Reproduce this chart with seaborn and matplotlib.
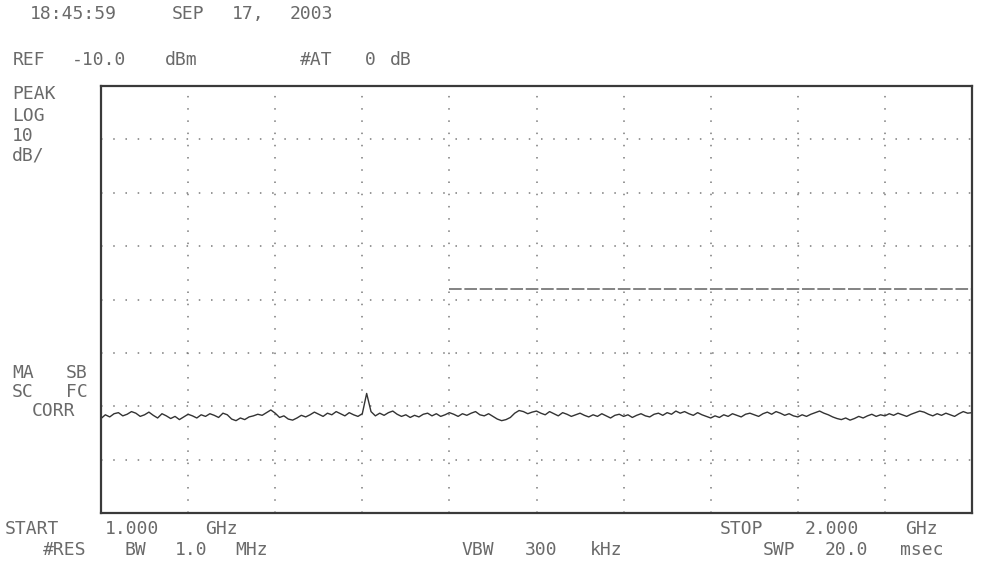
import numpy as np
import pandas as pd
import seaborn as sns
import matplotlib.pyplot as plt

# sweep settings (1.000 - 2.000 GHz, 5 MHz per trace point)
start_ghz = 1.0
stop_ghz = 2.0
ref_dbm = -10.0
db_per_div = 10

# trace, dBm
trace_dbm = [
    -72.3, -71.6, -72.0, -71.4, -71.2, -71.8, -71.5, -71.0, -71.3, -71.9,
    -71.6, -71.1, -71.7, -72.2, -71.4, -71.8, -72.3, -71.9, -72.5, -72.0,
    -71.5, -71.8, -72.2, -71.6, -71.9, -71.4, -71.7, -72.1, -71.3, -71.6,
    -72.4, -72.7, -72.2, -72.5, -72.0, -71.8, -71.5, -71.7, -71.2, -70.7,
    -71.3, -72.1, -71.8, -72.4, -72.6, -72.2, -71.7, -72.0, -71.6, -71.1,
    -71.5, -71.9, -71.3, -71.6, -71.0, -71.4, -71.8, -71.2, -71.6, -71.9,
    -71.4, -67.6, -71.0, -71.8, -71.3, -71.7, -71.2, -70.9, -71.5, -71.9,
    -71.6, -72.1, -71.7, -72.0, -71.5, -71.3, -71.8, -71.4, -71.9, -71.6,
    -71.2, -71.5, -71.9, -71.4, -71.7, -71.3, -71.0, -71.6, -71.8, -71.4,
    -71.9, -72.4, -72.7, -72.5, -72.1, -71.3, -70.8, -71.0, -71.4, -71.1,
    -70.9, -71.3, -71.6, -71.0, -71.4, -71.8, -71.2, -71.5, -71.9, -71.6,
    -71.3, -71.7, -72.0, -71.6, -71.9, -71.4, -71.8, -72.2, -71.7, -71.5,
    -71.9, -71.6, -72.1, -71.7, -71.4, -71.8, -72.0, -71.5, -71.3, -71.7,
    -71.2, -71.5, -70.9, -71.3, -71.0, -71.4, -71.7, -71.2, -71.6, -71.9,
    -72.2, -71.8, -72.1, -71.6, -71.9, -71.4, -71.7, -72.0, -71.5, -71.3,
    -71.6, -71.9, -71.4, -71.1, -71.5, -71.0, -71.3, -71.7, -71.4, -71.8,
    -72.0, -71.6, -71.9, -71.5, -71.2, -70.9, -71.3, -71.6, -72.0, -72.3,
    -72.5, -72.2, -72.6, -72.3, -71.9, -72.2, -71.8, -71.5, -71.9, -71.6,
    -71.8, -71.4, -71.7, -71.3, -71.6, -71.9, -71.5, -71.2, -70.9, -71.1,
    -71.5, -71.8, -71.4, -71.7, -71.3, -71.6, -71.9, -71.4, -71.0, -71.3,
    -71.2,
]
freq_ghz = np.linspace(start_ghz, stop_ghz, len(trace_dbm))

# display line drawn across the right part of the screen
display_line_dbm = -48.0
display_line_from = 1.40

df = pd.DataFrame({'freq': freq_ghz, 'level': trace_dbm})

W, H = 989, 571
sns.set_style('white')
plt.rcParams['font.family'] = ['DejaVu Sans Mono']

fig = plt.figure(figsize=(W / 100, H / 100), dpi=100)
ax = fig.add_axes([101 / W, (H - 513) / H, 871 / W, 427 / H])

sns.lineplot(data=df, x='freq', y='level', ax=ax, color='#333333', linewidth=1.0)
ax.hlines(display_line_dbm, display_line_from, stop_ghz, color='#7a7a7a',
          linewidth=1.3, linestyles=(0, (7, 1.5)))

ax.set_xlim(start_ghz, stop_ghz)
ax.set_ylim(ref_dbm - 8 * db_per_div, ref_dbm)
ax.set_xticks(np.linspace(start_ghz, stop_ghz, 11))
ax.set_yticks(np.arange(ref_dbm - 8 * db_per_div, ref_dbm + 1, db_per_div))
ax.tick_params(length=0, labelbottom=False, labelleft=False)
ax.set_xlabel('')
ax.set_ylabel('')
ax.grid(True, color='#7a7a7a', linewidth=1.1, linestyle=(0, (1, 7)))
for s in ax.spines.values():
    s.set_color('#3a3a3a')
    s.set_linewidth(1.6)

# printout annotations (word, left x px, centre y px)
words = [
    ('18:45:59', 30, 14), ('SEP', 172, 14), ('17,', 232, 14), ('2003', 290, 14),
    ('REF', 13, 60), ('-10.0', 72, 60), ('dBm', 165, 60),
    ('#AT', 300, 60), ('0', 365, 60), ('dB', 390, 60),
    ('PEAK', 12, 94), ('LOG', 12, 116), ('10', 12, 136), ('dB/', 12, 156),
    ('MA', 12, 373), ('SB', 66, 373), ('SC', 12, 392), ('FC', 66, 392),
    ('CORR', 32, 411),
    ('START', 5, 529), ('1.000', 105, 529), ('GHz', 205, 529),
    ('STOP', 720, 529), ('2.000', 805, 529), ('GHz', 905, 529),
    ('#RES', 43, 550), ('BW', 125, 550), ('1.0', 175, 550), ('MHz', 235, 550),
    ('VBW', 462, 550), ('300', 525, 550), ('kHz', 590, 550),
    ('SWP', 763, 550), ('20.0', 825, 550), ('msec', 900, 550),
]
for txt, x, y in words:
    fig.text(x / W, 1 - y / H, txt, ha='left', va='center', fontsize=13,
             color='#6a6a6a')

plt.savefig('out.png', dpi=100)
